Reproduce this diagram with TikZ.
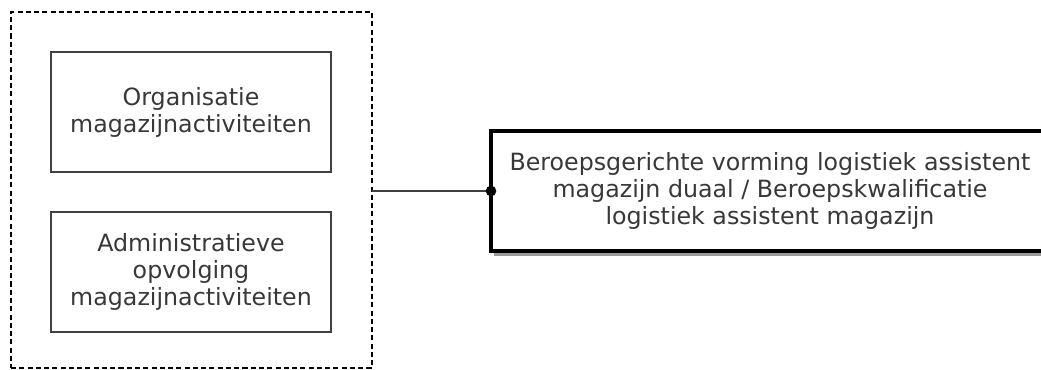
\documentclass[tikz,border=0pt]{standalone}
\usepackage{fontspec}
\setmainfont{DejaVu Sans}

\begin{document}
\begin{tikzpicture}[x=0.75pt,y=-0.75pt,
  every node/.style={font=\fontsize{17.8}{20.3}\selectfont, text=black!78, align=center, inner sep=0pt, outer sep=0pt},
  taak/.style={draw=black!75, line width=1.2pt, minimum width=210pt, minimum height=90pt},
  groep/.style={draw=black, line width=0.9pt, dash pattern=on 3.8pt off 2.4pt, minimum width=270.75pt, minimum height=267pt},
  beroep/.style={draw=black, line width=2.4pt, fill=white, minimum width=418.5pt, minimum height=90pt},
  punt/.style={circle, fill=black, minimum size=8pt}]
\useasboundingbox (0,0) rectangle (1041,370);
\clip (0,0) rectangle (1041,370);

\node[groep] (grp) at (191.5,190) {};
\node[taak] (org) at (191,112) {Organisatie\\magazijnactiviteiten};
\node[taak] (adm) at (191,272) {Administratieve\\opvolging\\magazijnactiviteiten};

\node[beroep] (duaal) at (770,191) {Beroepsgerichte vorming logistiek assistent\\magazijn duaal / Beroepskwalificatie\\logistiek assistent magazijn};
% schaduw onder de rand
\fill[black!40] ([xshift=2.5pt,yshift=-1.2pt]duaal.south west) rectangle ([xshift=3pt,yshift=-3.4pt]duaal.south east);

% verbinding
\draw[black!75, line width=1.1pt] (grp.east |- duaal.west) -- (duaal.west);
\node[punt] (dot) at (duaal.west) {};
\end{tikzpicture}
\end{document}
